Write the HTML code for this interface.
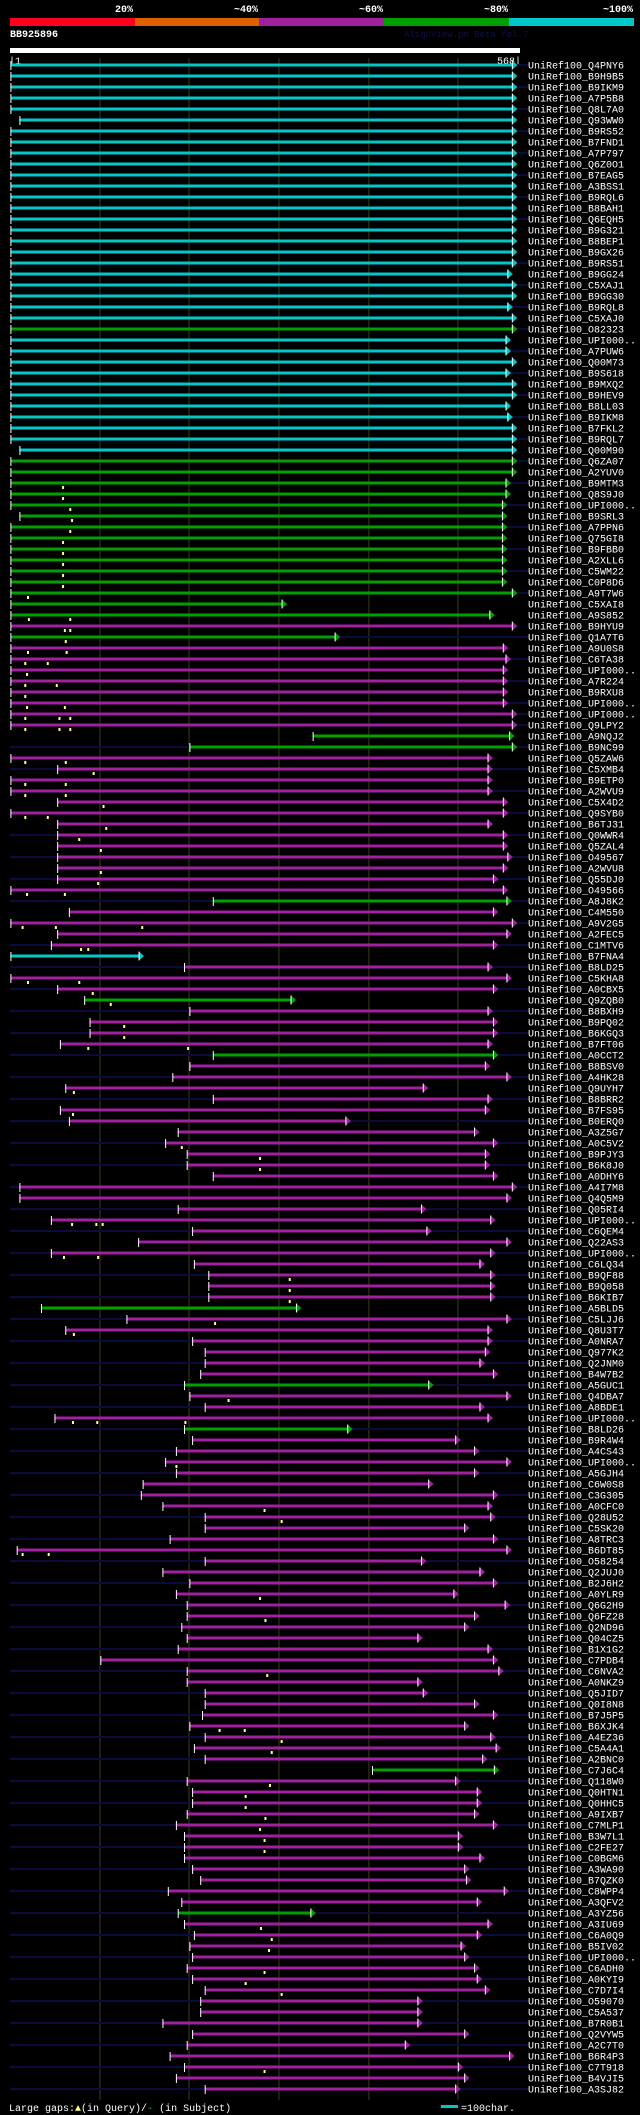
<!DOCTYPE html>
<html><head><meta charset="utf-8">
<style>
html,body{margin:0;padding:0;background:#000;}
body{width:640px;height:2115px;overflow:hidden;}
svg{display:block;}
text{font-family:"Liberation Mono","DejaVu Sans Mono",monospace;}
</style></head>
<body>
<svg id="chart" width="640" height="2115" viewBox="0 0 640 2115" xmlns="http://www.w3.org/2000/svg">
  <g>
    <rect x="10" y="18" width="125" height="8" fill="#ff0020"/>
    <rect x="135" y="18" width="124" height="8" fill="#e06000"/>
    <rect x="259" y="18" width="125" height="8" fill="#a020a0"/>
    <rect x="384" y="18" width="125" height="8" fill="#00a000"/>
    <rect x="509" y="18" width="125" height="8" fill="#00c8c8"/>
    <text x="133" y="12" fill="#fff" font-size="10" font-weight="bold" text-anchor="end">20%</text>
    <text x="258" y="12" fill="#fff" font-size="10" font-weight="bold" text-anchor="end">~40%</text>
    <text x="383" y="12" fill="#fff" font-size="10" font-weight="bold" text-anchor="end">~60%</text>
    <text x="508" y="12" fill="#fff" font-size="10" font-weight="bold" text-anchor="end">~80%</text>
    <text x="633" y="12" fill="#fff" font-size="10" font-weight="bold" text-anchor="end">~100%</text>
  </g>
  <text x="10" y="37" fill="#fff" font-size="10" font-weight="bold">BB925896</text>
  <text x="404" y="37" fill="#101048" font-size="9">AlignView.pm Beta rel.7</text>
  <rect x="10" y="48" width="510" height="5" fill="#fff"/>
  <text x="9" y="64" fill="#fff" font-size="10">|1</text>
  <text x="521" y="64" fill="#fff" font-size="10" text-anchor="end">568|</text>
  <g id="grid"></g>
  <g id="rows"></g>
  <g>
    <text x="9" y="2111" fill="#fff" font-size="10">Large gaps:<tspan fill="#ffff80">▲</tspan>(in Query)/<tspan fill="#00c8c8">-</tspan> (in Subject)</text>
    <rect x="441" y="2105" width="17" height="3" fill="#00c8c8"/>
    <text x="461" y="2111" fill="#fff" font-size="10">=100char.</text>
  </g>
</svg>
<script>
const labels = ["Q4PNY6","B9H9B5","B9IKM9","A7P5B8","Q8L7A0","Q93WW0","B9RS52","B7FND1","A7P797","Q6Z0O1","B7EAG5","A3BSS1","B9RQL6","B8BAH1","Q6EQH5","B9G321","B8BEP1","B9GX26","B9RS51","B9GG24","C5XAJ1","B9GG30","B9RQL8","C5XAJ0","O82323","UPI000..","A7PUW6","Q00M73","B9S618","B9MXQ2","B9HEV9","B8LL03","B9IKM8","B7FKL2","B9RQL7","Q00M90","Q6ZA07","A2YUV0","B9MTM3","Q8S9J0","UPI000..","B9SRL3","A7PPN6","Q75GI8","B9FBB0","A2XLL6","C5WM22","C0P8D6","A9T7W6","C5XAI8","A9S852","B9HYU9","Q1A7T6","A9U0S8","C6TA38","UPI000..","A7R224","B9RXU8","UPI000..","UPI000..","Q9LPY2","A9NQJ2","B9NC99","Q5ZAW6","C5XMB4","B9ETP0","A2WVU9","C5X4D2","Q9SYB0","B6TJ31","Q0WWR4","Q5ZAL4","O49567","A2WVU8","Q55DJ0","O49566","A8J8K2","C4M550","A9V2G5","A2FEC5","C1MTV6","B7FNA4","B8LD25","C5KHA8","A0CBX5","Q9ZQB0","B8BXH9","B9PQ02","B6KGQ3","B7FT06","A0CCT2","B8BSV0","A4HK28","Q9UYH7","B8BRR2","B7FS95","B0ERQ0","A3Z5G7","A0C5V2","B9PJY3","B6K8J0","A0DHY6","A4I7M8","Q4Q5M9","Q05RI4","UPI000..","C6QEM4","Q22AS3","UPI000..","C6LQ34","B9QF88","B9Q058","B6KIB7","A5BLD5","C5LJJ6","Q8U3T7","A0NRA7","Q977K2","Q2JNM0","B4W7B2","A5GUC1","Q4DBA7","A8BDE1","UPI000..","B8LD26","B9R4W4","A4CS43","UPI000..","A5GJH4","C6W0S8","C3G305","A0CFC0","Q28U52","C5SK20","A8TRC3","B6DT85","O58254","Q2JUJ0","B2J6H2","A0YLR9","Q6G2H9","Q6FZ28","Q2ND96","Q04CZ5","B1X1G2","C7PDB4","C6NVA2","A0NKZ9","Q5JID7","Q0I8N8","B7J5P5","B6XJK4","A4EZ36","C5A4A1","A2BNC0","C7J6C4","Q118W0","Q0HTN1","Q0HHC5","A9IXB7","C7MLP1","B3W7L1","C2FE27","C0BGM6","A3WA90","B7QZK0","C8WPP4","A3QFV2","A3YZ56","A3IU69","C6A0Q9","B5IV02","UPI000..","C6ADH0","A0KYI9","C7D7I4","O59070","C5A537","B7R0B1","Q2VYW5","A2C7T0","B6R4P3","C7T918","B4VJI5","A3SJ82"];
const colors = [
 "c","c","c","c","c","c","c","c","c","c",
 "c","c","c","c","c","c","c","c","c","c",
 "c","c","c","c","g","c","c","c","c","c",
 "c","c","c","c","c","c","g","g","g","g",
 "g","g","g","g","g","g","g","g","g","g",
 "g","m","g","m","m","m","m","m","m","m",
 "m","g","g","m","m","m","m","m","m","m",
 "m","m","m","m","m","m","g","m","m","m",
 "m","c","m","m","m","g","m","m","m","m",
 "g","m","m","m","m","m","m","m","m","m",
 "m","m","m","m","m","m","m","m","m","m",
 "m","m","m","g","m","m","m","m","m","m",
 "g","m","m","m","g","m","m","m","m","m",
 "m","m","m","m","m","m","m","m","m","m",
 "m","m","m","m","m","m","m","m","m","m",
 "m","m","m","m","m","g","m","m","m","m",
 "m","m","m","m","m","m","m","m","g","m",
 "m","m","m","m","m","m","m","m","m","m",
 "m","m","m","m","m"];
const starts = [
 2,2,2,2,2,12,2,2,2,2,
 2,2,2,2,2,2,2,2,2,2,
 2,2,2,2,2,2,2,2,2,2,
 2,2,2,2,2,12,2,2,2,2,
 2,12,2,2,2,2,2,2,2,2,
 2,2,2,2,2,2,2,2,2,2,
 2,338,201,2,54,2,2,54,2,54,
 54,54,54,54,54,2,227,67,2,54,
 47,2,195,2,54,84,201,90,90,57,
 227,201,182,63,227,57,67,188,174,198,
 198,227,12,12,188,47,204,144,47,206,
 222,222,222,36,131,63,204,218,218,213,
 195,201,218,51,195,204,186,174,186,149,
 147,171,218,218,179,9,218,171,201,186,
 198,198,192,198,188,102,198,198,218,218,
 215,201,218,206,218,404,198,204,204,198,
 186,195,195,195,204,213,177,192,188,195,
 206,201,204,198,204,218,213,213,171,204,
 198,179,195,186,218];
const ends = [
 565,565,565,565,565,565,565,565,565,565,
 565,565,565,565,565,565,565,565,565,560,
 565,565,560,565,565,558,558,565,558,565,
 565,558,560,565,565,565,565,565,558,558,
 554,554,554,554,554,554,554,554,565,309,
 540,565,368,555,558,555,555,555,555,565,
 565,562,565,538,538,538,538,555,555,538,
 555,555,560,555,544,555,559,544,565,559,
 544,150,538,559,544,319,538,544,544,538,
 544,535,559,466,538,535,380,523,544,535,
 535,544,565,559,464,541,470,559,541,529,
 541,541,541,325,559,538,538,535,529,544,
 472,559,529,538,382,502,523,559,523,472,
 544,538,541,512,544,559,464,529,544,500,
 557,523,512,460,538,544,550,460,466,523,
 544,512,541,547,532,545,502,526,526,523,
 544,505,505,529,512,514,556,526,341,538,
 526,508,512,523,526,535,460,460,460,512,
 446,562,505,512,502];
const subjectExtends = [
 1,0,1,0,1,0,1,0,1,0,
 1,0,1,0,1,0,0,0,1,0,
 1,0,1,0,1,0,1,0,1,0,
 1,0,1,0,1,0,1,0,1,0,
 1,0,1,0,1,0,1,0,1,0,
 0,0,1,0,1,0,1,0,1,1,
 1,0,1,0,1,0,1,0,1,0,
 1,0,1,0,1,0,1,0,1,0,
 1,0,1,0,1,0,1,0,1,0,
 1,0,1,0,1,0,1,0,1,0,
 1,0,1,0,1,0,1,0,1,0,
 1,0,1,0,1,0,1,0,1,0,
 1,0,1,0,1,0,1,0,1,0,
 1,0,1,0,1,0,1,0,1,0,
 1,0,1,0,1,0,1,0,1,0,
 1,0,1,0,1,0,1,0,1,0,
 1,0,1,0,1,0,1,0,1,0,
 1,0,1,0,1,0,1,0,1,0,
 1,0,1,0,1];
const queryGaps = {38:[60],39:[60],40:[68],41:[70],42:[68],43:[60],44:[60],45:[60],46:[60],47:[60],48:[21],50:[22,68],51:[62,68],52:[63],53:[21,64],54:[18,43],55:[20],56:[18,53],57:[18],58:[20,62],59:[18,56,68],60:[18,56,68],63:[18,63],64:[94],65:[18,63],66:[18,63],67:[105],68:[18,43],69:[108],70:[78],71:[102],73:[102],74:[99],75:[20,62],78:[15,52,148],80:[80,88],83:[21,78],84:[93],85:[113],87:[128],88:[128],89:[88,199],93:[72],95:[71],98:[192],99:[279],100:[279],105:[70,97,104],108:[61,99],110:[312],111:[312],112:[312],114:[229],115:[72],121:[244],123:[71,98,196],127:[186],131:[284],132:[303],135:[15,44],139:[279],141:[285],146:[287],151:[234,262],152:[303],153:[292],156:[290],157:[263],158:[263],159:[285],160:[279],161:[284],162:[284],169:[280],170:[292],171:[289],173:[284],174:[263],175:[303],182:[284]};
const gridResidues = [101,200,300,400,499];

const NS = "http://www.w3.org/2000/svg";
const X0 = 10, X1 = 520, R0 = 1, R1 = 568;
function xScale(r){ return X0 + (r - R0) * (X1 - X0) / (R1 - R0); }
const ROW_Y0 = 65, ROW_H = 11;
function yRow(i){ return ROW_Y0 + i * ROW_H; }
const palette = {c:"#00c8c8", g:"#00a000", m:"#a020a0"};
function mk(tag, attrs, parent){
  const e = document.createElementNS(NS, tag);
  for (const k in attrs) e.setAttribute(k, attrs[k]);
  parent.appendChild(e);
  return e;
}
const grid = document.getElementById("grid");
gridResidues.forEach(r => {
  const l = mk("line", {x1:xScale(r), x2:xScale(r), y1:58, y2:2100, stroke:"#3c3c1c", "stroke-width":1}, grid);
  
  
});
const rows = document.getElementById("rows");
labels.forEach((lab, i) => {
  const y = yRow(i);
  const g = mk("g", {}, rows);
  
  
  if (subjectExtends[i]) {
    const bg = mk("rect", {x:X0, y:y-1, width:519, height:2, fill:"#0c0c3c"}, g);
    
    
  }
  const col = palette[colors[i]] || palette.m;
  const xs = xScale(starts[i]), xe = xScale(ends[i]);
  const bar = mk("rect", {x:xs, y:y-1.5, width:Math.max(0, xe - 5 - xs), height:3, fill:col}, g);
  
  
  const tick = mk("rect", {x:xs-0.5, y:y-4, width:1, height:9, fill:"#fff"}, g);
  
  
  const ar = mk("polygon", {points:(xe-5)+","+(y-4.5)+" "+xe+","+y+" "+(xe-5)+","+(y+4.5), fill:col}, g);
  
  
  const al = mk("rect", {x:xe-5.5, y:y-4.5, width:1, height:9, fill:"#fff"}, g);
  
  
  (queryGaps[i] || []).forEach(r => {
    const m = mk("rect", {x:xScale(r)-1, y:y+3, width:2, height:3, fill:"#ffff80"}, g);
    
    
  });
  const t = mk("text", {x:528, y:y+3.5, fill:"#fff", "font-size":10}, g);
  
  
  t.textContent = "UniRef100_" + lab;
});
</script>
</body></html>
